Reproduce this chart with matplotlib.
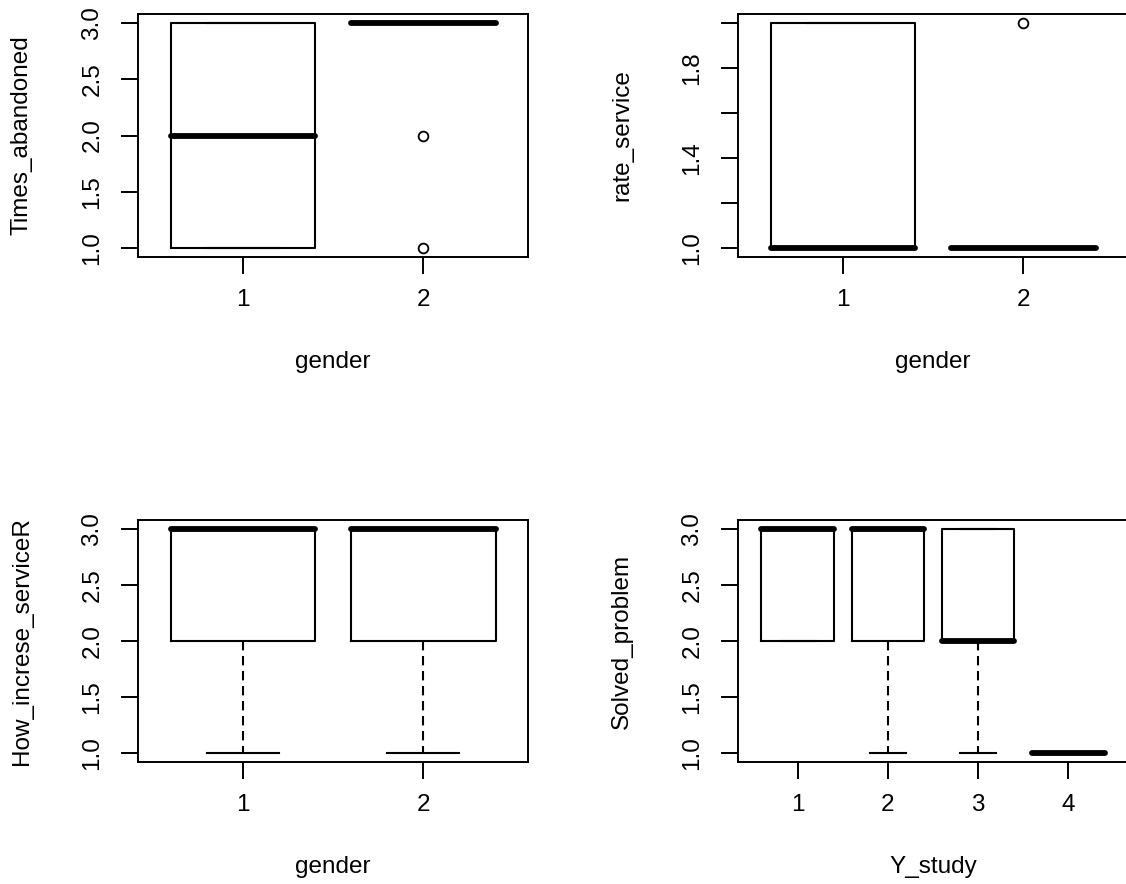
import matplotlib
matplotlib.use('Agg')
import matplotlib.pyplot as plt

plt.rcParams['font.family'] = ['Liberation Sans', 'DejaVu Sans']

# group labels
gender_groups = ['1', '2']
study_groups = ['1', '2', '3', '4']

# Times_abandoned by gender (box statistics)
times_q1 = [1, 3]
times_med = [2, 3]
times_q3 = [3, 3]
times_lo = [1, 3]
times_hi = [3, 3]
times_out = [[], [2, 1]]

# rate_service by gender
rate_q1 = [1, 1]
rate_med = [1, 1]
rate_q3 = [2, 1]
rate_lo = [1, 1]
rate_hi = [2, 1]
rate_out = [[], [2]]

# How_increse_serviceR by gender
incr_q1 = [2, 2]
incr_med = [3, 3]
incr_q3 = [3, 3]
incr_lo = [1, 1]
incr_hi = [3, 3]
incr_out = [[], []]

# Solved_problem by Y_study
solved_q1 = [2, 2, 2, 1]
solved_med = [3, 3, 2, 1]
solved_q3 = [3, 3, 3, 1]
solved_lo = [2, 1, 1, 1]
solved_hi = [3, 3, 3, 1]
solved_out = [[], [], [], []]

# y tick values / labels
half_ticks = [1.0, 1.5, 2.0, 2.5, 3.0]
half_labels = ['1.0', '1.5', '2.0', '2.5', '3.0']
rate_ticks = [1.0, 1.2, 1.4, 1.6, 1.8, 2.0]
rate_labels = ['1.0', '', '1.4', '', '1.8', '']

W, H = 1126, 884
FS = 17.5


def make_stats(q1, med, q3, lo, hi, out):
    """Builds the list of dicts that Axes.bxp wants."""
    stats = []
    for i in range(len(med)):
        stats.append({'q1': q1[i], 'med': med[i], 'q3': q3[i],
                      'whislo': lo[i], 'whishi': hi[i], 'fliers': out[i]})
    return stats


def draw_box(rect, stats, groups, xlabel, ylabel, yticks, yticklabels):
    """Draws one R-style boxplot panel at a pixel rectangle (x, y_top, w, h)."""
    x, y_top, w, h = rect
    ax = plt.gcf().add_axes([x / W, 1 - (y_top + h) / H, w / W, h / H])
    n = len(groups)
    pos = list(range(1, n + 1))
    ax.bxp(stats, positions=pos, widths=0.8, capwidths=0.4,
           manage_ticks=False,
           boxprops=dict(color='black', linewidth=1.5),
           medianprops=dict(color='black', linewidth=4.2,
                            solid_capstyle='round'),
           whiskerprops=dict(color='black', linewidth=1.5,
                             linestyle=(0, (4.5, 2.7))),
           capprops=dict(color='black', linewidth=1.5),
           flierprops=dict(marker='o', markerfacecolor='none',
                           markeredgecolor='black', markersize=7,
                           markeredgewidth=1.3, linestyle='none'))

    # R style limits: 4% padding
    ax.set_xlim(0.5 - 0.04 * n, n + 0.5 + 0.04 * n)
    vals = [s['whislo'] for s in stats] + [s['whishi'] for s in stats]
    for s in stats:
        vals += list(s['fliers'])
    lo, hi = min(vals), max(vals)
    pad = 0.04 * (hi - lo)
    ax.set_ylim(lo - pad, hi + pad)

    ax.set_xticks(pos)
    ax.set_xticklabels(groups)
    ax.set_yticks(yticks)
    ax.set_yticklabels(yticklabels)
    ax.tick_params(axis='both', direction='out', length=12, width=1.4,
                   labelsize=FS, colors='black')
    ax.tick_params(axis='x', pad=11)
    ax.tick_params(axis='y', pad=13, labelrotation=90)
    for lbl in ax.get_yticklabels():
        lbl.set_verticalalignment('center')
    for sp in ax.spines.values():
        sp.set_linewidth(1.4)

    ax.set_xlabel(xlabel, fontsize=FS)
    ax.set_ylabel(ylabel, fontsize=FS)
    ax.xaxis.label.set_verticalalignment('baseline')
    ax.xaxis.set_label_coords(0.5, -111 / h)
    ax.yaxis.label.set_verticalalignment('center')
    ax.yaxis.set_label_coords(-116 / w, 0.5)
    return ax


fig = plt.figure(figsize=(W / 100, H / 100), dpi=100)

draw_box((138, 14, 390, 243),
         make_stats(times_q1, times_med, times_q3, times_lo, times_hi, times_out),
         gender_groups, 'gender', 'Times_abandoned', half_ticks, half_labels)
draw_box((738, 14, 390, 243),
         make_stats(rate_q1, rate_med, rate_q3, rate_lo, rate_hi, rate_out),
         gender_groups, 'gender', 'rate_service', rate_ticks, rate_labels)
draw_box((138, 520, 390, 242),
         make_stats(incr_q1, incr_med, incr_q3, incr_lo, incr_hi, incr_out),
         gender_groups, 'gender', 'How_increse_serviceR', half_ticks, half_labels)
draw_box((738, 520, 390, 242),
         make_stats(solved_q1, solved_med, solved_q3, solved_lo, solved_hi, solved_out),
         study_groups, 'Y_study', 'Solved_problem', half_ticks, half_labels)

fig.savefig('out.png', dpi=100)
